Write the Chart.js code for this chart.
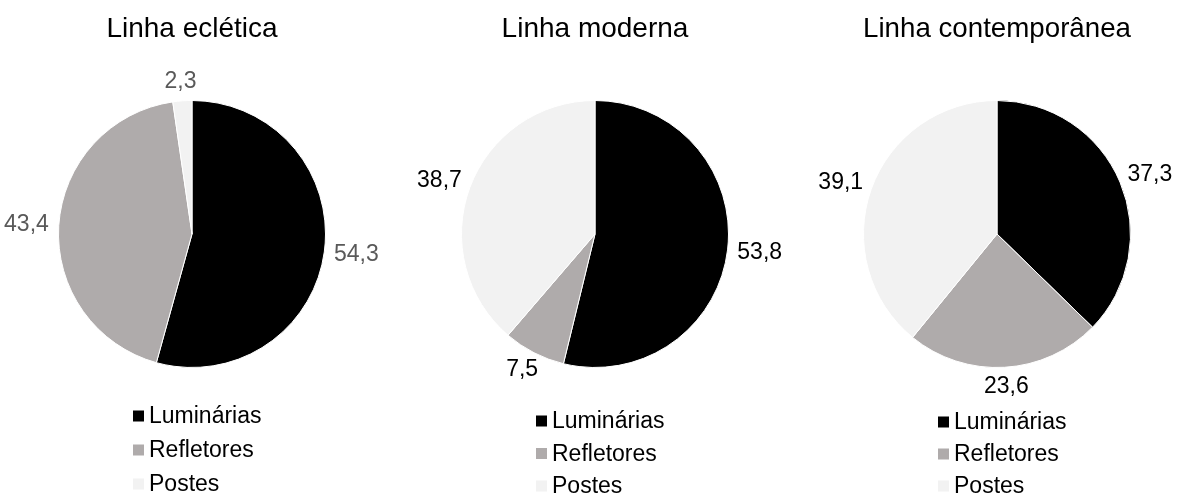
<!DOCTYPE html>
<html>
<head>
<meta charset="utf-8">
<script src="https://cdn.jsdelivr.net/npm/chart.js@4/dist/chart.umd.min.js"></script>
<style>
  html, body { margin: 0; padding: 0; background: #fff; overflow: hidden; }
  #wrap { position: relative; width: 1184px; height: 495px; }
  .box { position: absolute; top: 0; width: 380px; height: 495px; }
</style>
</head>
<body>
<div id="wrap">
  <div class="box" style="left: 2px"><canvas id="pie1"></canvas></div>
  <div class="box" style="left: 405px"><canvas id="pie2"></canvas></div>
  <div class="box" style="left: 807px"><canvas id="pie3"></canvas></div>
</div>
<script>
const categories = ['Luminárias', 'Refletores', 'Postes']
const ecletica = [54.3, 43.4, 2.3]
const moderna = [53.8, 7.5, 38.7]
const contemporanea = [37.3, 23.6, 39.1]
const titles = ['Linha eclética', 'Linha moderna', 'Linha contemporânea']

const sliceColors = ['#000000', '#AFABAB', '#F2F2F2']
const fontFamily = '"Liberation Sans", Arial, sans-serif'

function formatValue(v) {
    return v.toFixed(1).replace('.', ',')
}

// value labels just outside each slice, at the middle angle
const outsideLabels = {
    id: 'outsideLabels',
    afterDatasetsDraw(chart, args, opts) {
        const ctx = chart.ctx
        const meta = chart.getDatasetMeta(0)
        const vals = chart.data.datasets[0].data
        ctx.save()
        ctx.font = opts.size + 'px ' + fontFamily
        ctx.fillStyle = opts.color
        ctx.textAlign = 'center'
        ctx.textBaseline = 'middle'
        meta.data.forEach((arc, i) => {
            const p = arc.getProps(['x', 'y', 'startAngle', 'endAngle', 'outerRadius'], true)
            const mid = (p.startAngle + p.endAngle) / 2
            const dx = Math.cos(mid), dy = Math.sin(mid)
            const text = formatValue(vals[i])
            const w = ctx.measureText(text).width
            const h = opts.size * 0.8
            const r = p.outerRadius + opts.gap
            ctx.fillText(text, p.x + dx * (r + w / 2), p.y + dy * (r + h / 2))
        })
        ctx.restore()
    }
}

// legend as a single left-aligned column under the pie
const columnLegend = {
    id: 'columnLegend',
    afterDraw(chart, args, opts) {
        const ctx = chart.ctx
        const meta = chart.getDatasetMeta(0)
        const cx = meta.data[0].x
        ctx.save()
        ctx.font = opts.size + 'px ' + fontFamily
        ctx.textBaseline = 'middle'
        ctx.textAlign = 'left'
        chart.data.labels.forEach((lab, i) => {
            const y = opts.top + i * opts.step
            ctx.fillStyle = chart.data.datasets[0].backgroundColor[i]
            ctx.fillRect(cx + opts.left, y - opts.box / 2, opts.box, opts.box)
            ctx.fillStyle = '#000'
            ctx.fillText(lab, cx + opts.left + opts.box + 5, y + 1)
        })
        ctx.restore()
    }
}

function makePie(id, title, values, labelColor, legendTop, step) {
    new Chart(document.getElementById(id), {
        type: 'pie',
        data: {
            labels: categories,
            datasets: [{
                data: values,
                backgroundColor: sliceColors,
                borderColor: '#ffffff',
                borderWidth: 1
            }]
        },
        options: {
            responsive: true,
            maintainAspectRatio: false,
            animation: false,
            layout: { padding: { top: 0, bottom: 127, left: 56, right: 56 } },
            plugins: {
                legend: { display: false },
                tooltip: { enabled: false },
                title: {
                    display: true,
                    text: title,
                    color: '#000',
                    font: { size: 28, family: fontFamily, weight: 'normal', lineHeight: 1.2 },
                    padding: { top: 12, bottom: 54.4 }
                },
                outsideLabels: { size: 23, color: labelColor, gap: 10 },
                columnLegend: { size: 23, top: legendTop, step: step, left: -59, box: 11 }
            }
        },
        plugins: [outsideLabels, columnLegend]
    })
}

makePie('pie1', titles[0], ecletica, '#595959', 416, 34)
makePie('pie2', titles[1], moderna, '#000000', 421, 32.5)
makePie('pie3', titles[2], contemporanea, '#000000', 422, 32)
</script>
</body>
</html>
